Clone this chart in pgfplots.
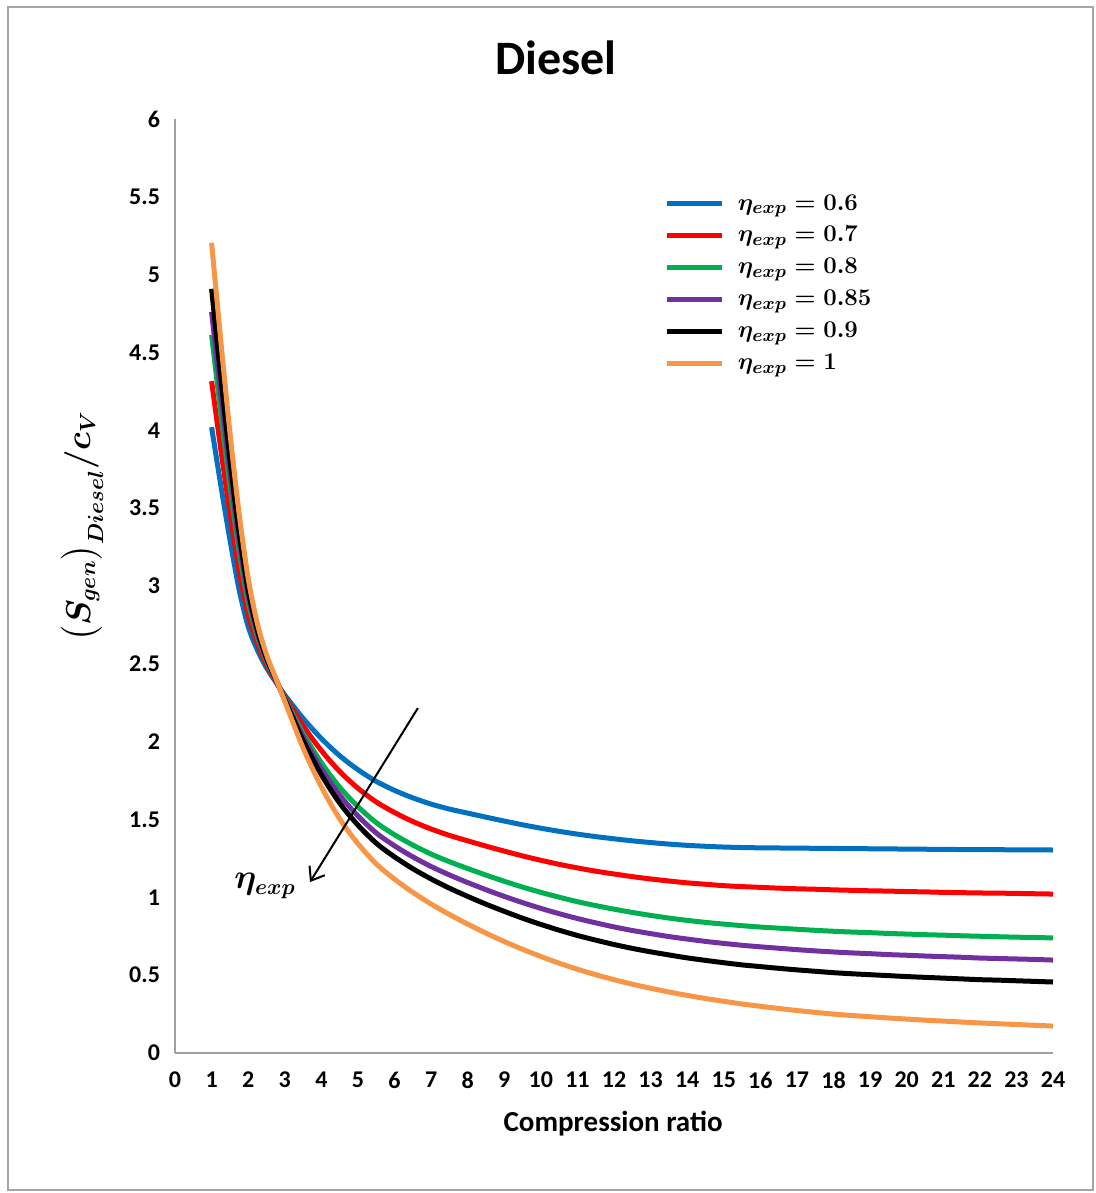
\documentclass[border=0pt]{standalone}
\usepackage{amsmath}
\usepackage{pgfplots}
\pgfplotsset{compat=1.18}
\usepackage{pgfplotstable}
\usepackage{fontspec}
\setmainfont{Carlito}
\usetikzlibrary{arrows.meta}

\definecolor{cB}{HTML}{0070C0}
\definecolor{cR}{HTML}{FF0000}
\definecolor{cG}{HTML}{00B050}
\definecolor{cP}{HTML}{7030A0}
\definecolor{cK}{HTML}{000000}
\definecolor{cO}{HTML}{F79646}
\definecolor{axgray}{HTML}{A0A0A0}
\definecolor{framegray}{HTML}{A6A6A6}

\pgfplotstableread{
x     b      r      g      p      k      o
1     4.020  4.316  4.613  4.761  4.909  5.205
1.25  3.650  3.883  4.115  4.231  4.348  4.580
1.5   3.300  3.473  3.645  3.731  3.818  3.990
1.75  2.980  3.103  3.225  3.286  3.348  3.470
2     2.740  2.818  2.895  2.934  2.973  3.050
2.25  2.590  2.633  2.675  2.696  2.718  2.760
2.5   2.475  2.496  2.518  2.528  2.539  2.560
2.75  2.385  2.391  2.398  2.401  2.404  2.410
3     2.300  2.290  2.280  2.275  2.270  2.260
3.5   2.150  2.103  2.055  2.031  2.008  1.960
4     2.020  1.943  1.865  1.826  1.788  1.710
4.5   1.910  1.809  1.708  1.657  1.606  1.505
5     1.820  1.701  1.583  1.523  1.464  1.345
5.5   1.745  1.613  1.480  1.414  1.348  1.215
6     1.687  1.545  1.402  1.331  1.260  1.117
6.5   1.639  1.487  1.336  1.260  1.184  1.032
7     1.599  1.439  1.278  1.198  1.118  0.957
7.5   1.567  1.398  1.229  1.144  1.059  0.890
8     1.541  1.363  1.185  1.095  1.006  0.828
8.5   1.515  1.329  1.143  1.049  0.956  0.770
9     1.490  1.297  1.103  1.006  0.910  0.716
9.5   1.466  1.266  1.066  0.966  0.866  0.666
10    1.444  1.238  1.032  0.929  0.826  0.620
10.5  1.424  1.212  1.001  0.895  0.789  0.577
11    1.406  1.189  0.972  0.864  0.755  0.538
11.5  1.390  1.168  0.947  0.836  0.725  0.503
12    1.376  1.150  0.924  0.810  0.697  0.471
12.5  1.363  1.133  0.903  0.787  0.672  0.442
13    1.352  1.118  0.884  0.767  0.650  0.416
13.5  1.342  1.105  0.867  0.748  0.630  0.392
14    1.334  1.093  0.852  0.732  0.611  0.370
14.5  1.328  1.084  0.839  0.717  0.595  0.350
15    1.323  1.075  0.828  0.704  0.580  0.332
15.5  1.320  1.069  0.818  0.692  0.566  0.315
16    1.318  1.064  0.809  0.682  0.555  0.300
16.5  1.317  1.059  0.802  0.673  0.544  0.286
17    1.316  1.055  0.795  0.664  0.534  0.273
17.5  1.315  1.052  0.788  0.656  0.525  0.261
18    1.314  1.048  0.782  0.649  0.516  0.250
18.5  1.313  1.045  0.777  0.643  0.509  0.241
19    1.312  1.042  0.773  0.638  0.503  0.233
19.5  1.311  1.040  0.768  0.632  0.497  0.225
20    1.310  1.037  0.764  0.628  0.491  0.218
20.5  1.309  1.035  0.760  0.623  0.486  0.211
21    1.308  1.032  0.757  0.619  0.481  0.205
21.5  1.307  1.030  0.753  0.615  0.476  0.199
22    1.306  1.028  0.750  0.610  0.471  0.193
22.5  1.306  1.027  0.747  0.607  0.468  0.188
23    1.305  1.025  0.744  0.604  0.464  0.183
23.5  1.305  1.023  0.742  0.601  0.460  0.178
24    1.304  1.021  0.739  0.597  0.456  0.173
}\datatable

\begin{document}
\begin{tikzpicture}
\path (0,0) rectangle (548pt,596.5pt);
\draw[framegray, line width=0.75pt] (4pt,1.5pt) rectangle (546.5pt,593pt);
\begin{axis}[
  at={(87.5pt,70pt)}, anchor=south west,
  scale only axis, width=439pt, height=467pt,
  xmin=0, xmax=24, ymin=0, ymax=6,
  xtick={0,1,...,24}, ytick={0,0.5,...,6},
  axis x line=bottom, axis y line=left,
  axis line style={draw=axgray, line width=1pt},
  every outer x axis line/.append style={-},
  every outer y axis line/.append style={-},
  major tick length=0pt,
  /pgf/number format/assume math mode=true,
  ticklabel style={font=\bfseries\fontsize{12}{12}\selectfont},
  yticklabel style={xshift=-4pt},
  xticklabel style={yshift=-6pt},
  title={Diesel},
  title style={font=\bfseries\fontsize{24}{24}\selectfont, at={(axis description cs:0.434,1.053)}, anchor=center},
  xlabel={Compression ratio},
  xlabel style={font=\bfseries\fontsize{14.5}{14.5}\selectfont, at={(axis description cs:0.499,-0.076)}, anchor=center},
  ylabel={$\bigl(S_{gen}\bigr)_{Diesel}/c_V$},
  ylabel style={font=\boldmath\fontsize{16}{16}\selectfont, at={(axis description cs:-0.106,0.564)}, anchor=center},
  legend cell align=left,
  legend style={draw=none, fill=none, at={(axis description cs:0.550,0.928)}, anchor=north west,
    font=\boldmath\fontsize{13}{13}\selectfont, row sep=2.7pt,
    /tikz/every odd column/.append style={column sep=5pt}},
  legend image post style={xscale=1.6},
  clip=false
]
\addplot[cB, line width=2.5pt, smooth, no markers] table[x=x, y=b] {\datatable};
\addlegendentry{$\eta_{exp}=0.6$}
\addplot[cR, line width=2.5pt, smooth, no markers] table[x=x, y=r] {\datatable};
\addlegendentry{$\eta_{exp}=0.7$}
\addplot[cG, line width=2.5pt, smooth, no markers] table[x=x, y=g] {\datatable};
\addlegendentry{$\eta_{exp}=0.8$}
\addplot[cP, line width=2.5pt, smooth, no markers] table[x=x, y=p] {\datatable};
\addlegendentry{$\eta_{exp}=0.85$}
\addplot[cK, line width=2.5pt, smooth, no markers] table[x=x, y=k] {\datatable};
\addlegendentry{$\eta_{exp}=0.9$}
\addplot[cO, line width=2.5pt, smooth, no markers] table[x=x, y=o] {\datatable};
\addlegendentry{$\eta_{exp}=1$}
\coordinate (arrS) at (axis cs:6.64,2.216);
\coordinate (arrE) at (axis cs:3.69,1.098);
\coordinate (etaL) at (axis cs:2.46,1.073);
\end{axis}
\draw[-{Straight Barb[length=6pt, width=9pt]}, line width=1pt, black] (arrS) -- (arrE);
\node[font=\boldmath\fontsize{16}{16}\selectfont] at (etaL) {$\eta_{exp}$};
\end{tikzpicture}
\end{document}
